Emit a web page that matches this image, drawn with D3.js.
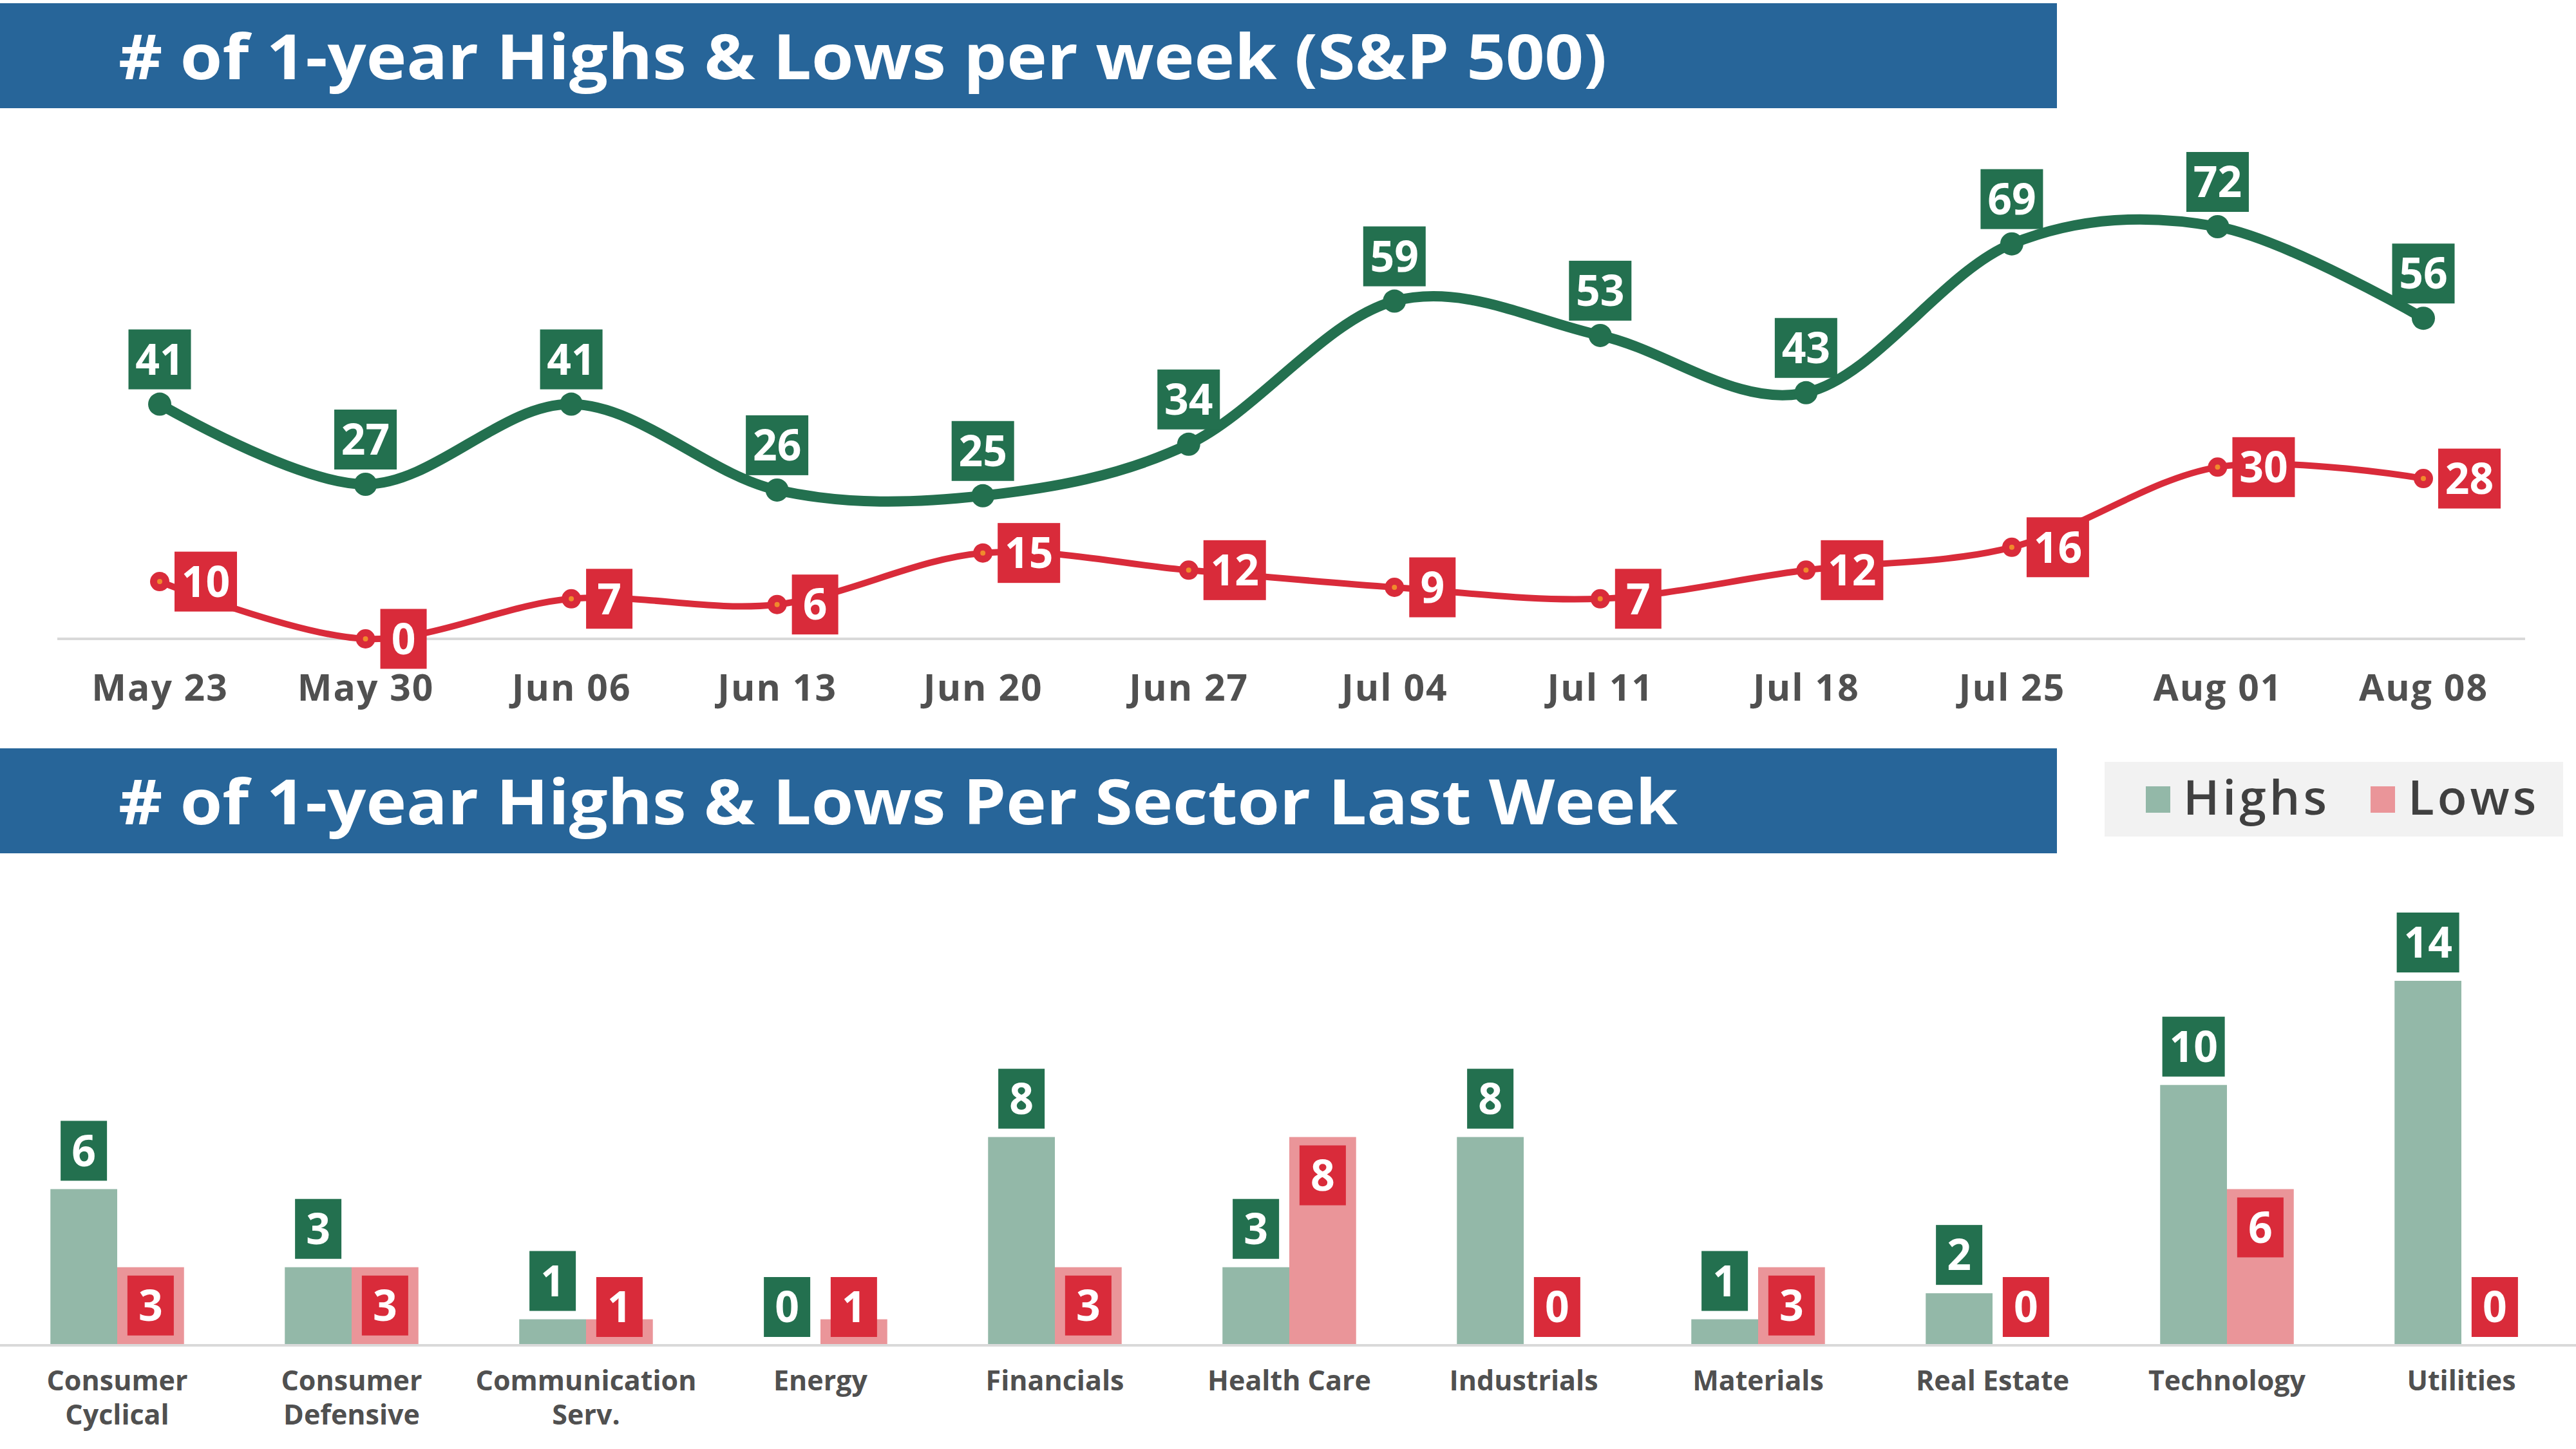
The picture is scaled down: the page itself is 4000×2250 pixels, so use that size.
<!DOCTYPE html>
<html>
<head>
<meta charset="utf-8">
<script src="https://cdn.jsdelivr.net/npm/d3@7"></script>
<style>
  body { margin: 0; background: #fff; }
  svg text { font-family: "Open Sans", "Lato", sans-serif; }
</style>
</head>
<body>
<div id="chart"></div>
<script>
// ===== DATA =====
const weeks = ["May 23", "May 30", "Jun 06", "Jun 13", "Jun 20", "Jun 27", "Jul 04", "Jul 11", "Jul 18", "Jul 25", "Aug 01", "Aug 08"];
const weeklyHighs = [41, 27, 41, 26, 25, 34, 59, 53, 43, 69, 72, 56];
const weeklyLows = [10, 0, 7, 6, 15, 12, 9, 7, 12, 16, 30, 28];

const sectors = ["Consumer Cyclical", "Consumer Defensive", "Communication Serv.", "Energy", "Financials", "Health Care", "Industrials", "Materials", "Real Estate", "Technology", "Utilities"];
const sectorLabels = [["Consumer", "Cyclical"], ["Consumer", "Defensive"], ["Communication", "Serv."], ["Energy"], ["Financials"], ["Health Care"], ["Industrials"], ["Materials"], ["Real Estate"], ["Technology"], ["Utilities"]];
const sectorHighs = [6, 3, 1, 0, 8, 3, 8, 1, 2, 10, 14];
const sectorLows = [3, 3, 1, 1, 3, 8, 0, 3, 0, 6, 0];

const title1 = "# of 1-year Highs & Lows per week (S&P 500)";
const title2 = "# of 1-year Highs & Lows Per Sector Last Week";

// ===== STYLE =====
const BLUE = "#276599";
const GREEN = "#23704f";
const RED = "#d92b3a";
const ORANGE = "#f08a2c";
const HIGH_BAR = "#93b8a8";
const LOW_BAR = "#ea9599";
const GRID = "#d9d9d9";
const TXT = "#505050";

const W = 4000, H = 2250;

const svg = d3.select("#chart").append("svg")
  .attr("width", W)
  .attr("height", H);

// label box width depends on digits
function boxW(s) { return 47 + 25 * String(s).length; }
const BOX_H = 93;

function titleBand(y, text, len) {
  svg.append("rect")
    .attr("x", 0).attr("y", y)
    .attr("width", 3194).attr("height", 163)
    .attr("fill", BLUE);
  svg.append("text")
    .attr("x", 184).attr("y", y + 118)
    .attr("fill", "#fff")
    .attr("font-size", 96)
    .attr("font-weight", 700)
    .attr("textLength", len)
    .attr("lengthAdjust", "spacingAndGlyphs")
    .text(text);
}

titleBand(5, title1, 2311);
titleBand(1162, title2, 2421);

// ===== LINE CHART =====
const xLine = d3.scalePoint().domain(weeks).range([248, 3763]);
const yLine = d3.scaleLinear().domain([0, 72]).range([992, 352]);

svg.append("line")
  .attr("x1", 89).attr("x2", 3921)
  .attr("y1", yLine(0)).attr("y2", yLine(0))
  .attr("stroke", GRID).attr("stroke-width", 4);

const xAxis = svg.append("g")
  .attr("transform", `translate(0,${yLine(0) + 56})`)
  .call(d3.axisBottom(xLine).tickSize(0).tickPadding(0));
xAxis.select(".domain").remove();
xAxis.selectAll("text")
  .attr("font-family", "'Open Sans', sans-serif")
  .attr("font-size", 57)
  .attr("font-weight", 700)
  .attr("letter-spacing", 2)
  .attr("fill", TXT);

const line = d3.line()
  .x((d, i) => xLine(weeks[i]))
  .y(d => yLine(d))
  .curve(d3.curveCatmullRom.alpha(0));

svg.append("path")
  .datum(weeklyLows)
  .attr("d", line)
  .attr("fill", "none")
  .attr("stroke", RED)
  .attr("stroke-width", 10);

svg.append("path")
  .datum(weeklyHighs)
  .attr("d", line)
  .attr("fill", "none")
  .attr("stroke", GREEN)
  .attr("stroke-width", 16);

// markers
svg.selectAll(".hi-dot")
  .data(weeklyHighs)
  .enter().append("circle")
  .attr("cx", (d, i) => xLine(weeks[i]))
  .attr("cy", d => yLine(d))
  .attr("r", 18)
  .attr("fill", GREEN);

const lowDots = svg.selectAll(".lo-dot")
  .data(weeklyLows)
  .enter().append("g")
  .attr("transform", (d, i) => `translate(${xLine(weeks[i])},${yLine(d)})`);
lowDots.append("circle").attr("r", 15).attr("fill", RED);
lowDots.append("circle").attr("r", 4).attr("fill", ORANGE);

// green labels above the point
const hiLab = svg.selectAll(".hi-lab")
  .data(weeklyHighs)
  .enter().append("g")
  .attr("transform", (d, i) => `translate(${xLine(weeks[i])},${yLine(d) - 23 - BOX_H / 2})`);
hiLab.append("rect")
  .attr("x", d => -boxW(d) / 2).attr("y", -BOX_H / 2)
  .attr("width", d => boxW(d)).attr("height", BOX_H)
  .attr("fill", GREEN);
hiLab.append("text")
  .attr("text-anchor", "middle")
  .attr("dy", "0.36em")
  .attr("font-size", 66).attr("font-weight", 700)
  .attr("fill", "#fff")
  .text(d => d);

// red labels to the right of the point
const loLab = svg.selectAll(".lo-lab")
  .data(weeklyLows)
  .enter().append("g")
  .attr("transform", (d, i) => `translate(${xLine(weeks[i]) + 23},${yLine(d)})`);
loLab.append("rect")
  .attr("x", 0).attr("y", -BOX_H / 2)
  .attr("width", d => boxW(d)).attr("height", BOX_H)
  .attr("fill", RED);
loLab.append("text")
  .attr("x", d => boxW(d) / 2)
  .attr("text-anchor", "middle")
  .attr("dy", "0.36em")
  .attr("font-size", 66).attr("font-weight", 700)
  .attr("fill", "#fff")
  .text(d => d);

// ===== LEGEND =====
svg.append("rect")
  .attr("x", 3268).attr("y", 1183)
  .attr("width", 712).attr("height", 116)
  .attr("fill", "#f2f2f2");
[["Highs", HIGH_BAR, 3332], ["Lows", LOW_BAR, 3681]].forEach(([name, col, x]) => {
  svg.append("rect")
    .attr("x", x).attr("y", 1221)
    .attr("width", 38).attr("height", 41)
    .attr("fill", col);
  svg.append("text")
    .attr("x", x + 58).attr("y", 1265)
    .attr("font-size", 75).attr("font-weight", 600)
    .attr("letter-spacing", 5)
    .attr("fill", "#404040")
    .text(name);
});

// ===== BAR CHART =====
const x0 = d3.scaleBand().domain(sectors).range([0, 4004])
  .paddingInner(0.43).paddingOuter(0.215);
const x1 = d3.scaleBand().domain(["highs", "lows"]).range([0, x0.bandwidth()]);
const yBar = d3.scaleLinear().domain([0, 14]).range([2089, 1523]);

const groups = svg.selectAll(".sector")
  .data(sectors)
  .enter().append("g")
  .attr("transform", d => `translate(${x0(d)},0)`);

groups.append("rect")
  .attr("x", x1("highs"))
  .attr("y", (d, i) => yBar(sectorHighs[i]))
  .attr("width", x1.bandwidth())
  .attr("height", (d, i) => yBar(0) - yBar(sectorHighs[i]))
  .attr("fill", HIGH_BAR);

groups.append("rect")
  .attr("x", x1("lows"))
  .attr("y", (d, i) => yBar(sectorLows[i]))
  .attr("width", x1.bandwidth())
  .attr("height", (d, i) => yBar(0) - yBar(sectorLows[i]))
  .attr("fill", LOW_BAR);

svg.append("line")
  .attr("x1", 0).attr("x2", W)
  .attr("y1", yBar(0)).attr("y2", yBar(0))
  .attr("stroke", GRID).attr("stroke-width", 4);

// highs labels: outside end
const bh = groups.append("g")
  .attr("transform", (d, i) => `translate(${x1("highs") + x1.bandwidth() / 2},${yBar(sectorHighs[i]) - 13 - BOX_H / 2})`);
bh.append("rect")
  .attr("x", (d, i) => -boxW(sectorHighs[i]) / 2).attr("y", -BOX_H / 2)
  .attr("width", (d, i) => boxW(sectorHighs[i])).attr("height", BOX_H)
  .attr("fill", GREEN);
bh.append("text")
  .attr("text-anchor", "middle").attr("dy", "0.36em")
  .attr("font-size", 66).attr("font-weight", 700).attr("fill", "#fff")
  .text((d, i) => sectorHighs[i]);

// lows labels: inside end, kept above the baseline
const bl = groups.append("g")
  .attr("transform", (d, i) => {
    const top = Math.min(yBar(sectorLows[i]) + 13, yBar(0) - 13 - BOX_H);
    return `translate(${x1("lows") + x1.bandwidth() / 2},${top + BOX_H / 2})`;
  });
bl.append("rect")
  .attr("x", (d, i) => -boxW(sectorLows[i]) / 2).attr("y", -BOX_H / 2)
  .attr("width", (d, i) => boxW(sectorLows[i])).attr("height", BOX_H)
  .attr("fill", RED);
bl.append("text")
  .attr("text-anchor", "middle").attr("dy", "0.36em")
  .attr("font-size", 66).attr("font-weight", 700).attr("fill", "#fff")
  .text((d, i) => sectorLows[i]);

// category axis
const catAxis = svg.append("g")
  .attr("transform", `translate(0,${yBar(0)})`)
  .call(d3.axisBottom(x0).tickSize(0).tickFormat(() => ""));
catAxis.select(".domain").remove();
catAxis.selectAll(".tick text").each(function(d, i) {
  const t = d3.select(this)
    .attr("y", 0).attr("dy", null)
    .attr("font-family", "'Open Sans', sans-serif")
    .attr("font-size", 43).attr("font-weight", 700)
    .attr("fill", TXT);
  sectorLabels[i].forEach((part, k) => {
    t.append("tspan").attr("x", 0).attr("y", 70 + k * 53).text(part);
  });
});
</script>
</body>
</html>
